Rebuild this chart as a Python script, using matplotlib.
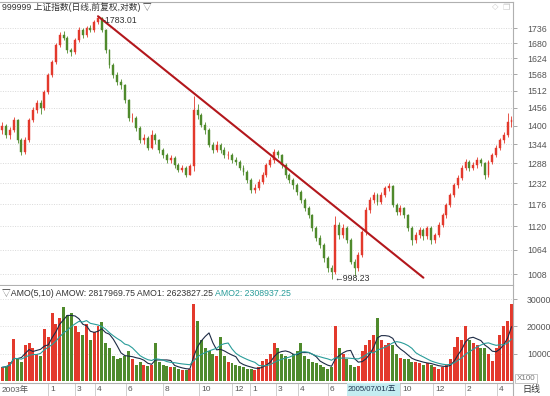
import matplotlib
matplotlib.use("Agg")
import matplotlib.pyplot as plt
import matplotlib.transforms as mtransforms
from matplotlib.ticker import FixedLocator, FixedFormatter, NullLocator
from matplotlib.patches import Rectangle
import numpy as np
import pandas as pd

# ---------------- data (weekly-ish bars, index positions) ----------------
close = [1400, 1370, 1386, 1417, 1356, 1320, 1356, 1417, 1449, 1471,
         1455, 1508, 1565, 1611, 1672, 1710, 1699, 1654, 1647, 1691,
         1730, 1710, 1738, 1730, 1760, 1776, 1730, 1654, 1600, 1565,
         1541, 1530, 1481, 1423, 1423, 1392, 1356, 1362, 1332, 1371,
         1356, 1326, 1311, 1297, 1302, 1283, 1269, 1275, 1256, 1280,
         1449, 1433, 1402, 1386, 1341, 1326, 1341, 1326, 1311, 1311,
         1297, 1291, 1275, 1264, 1241, 1214, 1220, 1236, 1255, 1283,
         1297, 1320, 1311, 1283, 1255, 1241, 1227, 1208, 1187, 1166,
         1148, 1116, 1092, 1075, 1044, 1021, 1012, 1124, 1099, 1116,
         1087, 1036, 1021, 1051, 1106, 1161, 1187, 1200, 1182, 1200,
         1220, 1225, 1174, 1156, 1166, 1148, 1116, 1087, 1099, 1111,
         1096, 1116, 1087, 1099, 1124, 1148, 1174, 1200, 1227, 1247,
         1275, 1291, 1275, 1283, 1297, 1289, 1255, 1291, 1311, 1332,
         1356, 1371, 1410, 1417]
high = [1412, 1405, 1395, 1428, 1420, 1362, 1365, 1425, 1458, 1482,
        1480, 1515, 1572, 1620, 1680, 1722, 1725, 1705, 1662, 1698,
        1740, 1738, 1745, 1750, 1768, 1783.01, 1780, 1735, 1660, 1608,
        1575, 1552, 1535, 1486, 1440, 1430, 1398, 1375, 1368, 1385,
        1378, 1360, 1332, 1318, 1312, 1308, 1290, 1284, 1280, 1286,
        1496, 1470, 1440, 1410, 1392, 1350, 1352, 1348, 1335, 1322,
        1318, 1305, 1298, 1282, 1270, 1246, 1230, 1245, 1262, 1290,
        1305, 1328, 1326, 1316, 1288, 1260, 1248, 1232, 1214, 1192,
        1172, 1152, 1120, 1098, 1080, 1050, 1028, 1147, 1130, 1125,
        1120, 1092, 1042, 1058, 1112, 1168, 1195, 1210, 1205, 1208,
        1226, 1232, 1228, 1180, 1175, 1170, 1152, 1120, 1106, 1118,
        1115, 1122, 1120, 1105, 1130, 1154, 1180, 1206, 1234, 1255,
        1282, 1300, 1298, 1292, 1305, 1302, 1292, 1298, 1318, 1340,
        1362, 1380, 1440, 1430]
low = [1375, 1362, 1360, 1380, 1348, 1312, 1314, 1350, 1410, 1440,
       1436, 1450, 1500, 1558, 1605, 1665, 1690, 1645, 1632, 1640,
       1685, 1700, 1702, 1720, 1722, 1752, 1722, 1645, 1590, 1555,
       1530, 1518, 1472, 1415, 1410, 1384, 1348, 1345, 1325, 1328,
       1345, 1318, 1302, 1288, 1290, 1276, 1262, 1262, 1250, 1259,
       1265, 1420, 1395, 1375, 1335, 1318, 1320, 1318, 1302, 1300,
       1290, 1283, 1268, 1256, 1234, 1205, 1206, 1214, 1230, 1250,
       1278, 1290, 1302, 1276, 1248, 1232, 1218, 1200, 1180, 1158,
       1140, 1108, 1085, 1068, 1036, 1012, 998.23, 1008, 1090, 1092,
       1080, 1030, 1004, 1015, 1046, 1100, 1155, 1180, 1175, 1178,
       1195, 1212, 1168, 1148, 1150, 1140, 1110, 1075, 1080, 1092,
       1088, 1090, 1078, 1080, 1095, 1118, 1142, 1168, 1195, 1220,
       1240, 1268, 1266, 1270, 1276, 1280, 1245, 1250, 1285, 1305,
       1325, 1348, 1365, 1395]
first_open = 1385

volume = [5, 5.5, 7, 15.5, 8, 7, 13, 14, 12, 10,
          9, 19, 16, 25, 21, 23, 27, 24, 25, 20,
          18, 17, 21, 15, 18, 20, 21.5, 14, 12, 9,
          8, 8.5, 9, 11, 8, 6, 7, 6, 5.5, 6,
          14, 7, 6, 5.5, 5, 5, 4.5, 4, 4, 4.5,
          28, 22, 15, 12, 11, 10, 9, 16, 9, 7,
          6.5, 6, 5.5, 5, 4.5, 4.5, 4, 5, 7.5, 8,
          10, 14, 12, 10, 9, 8, 10, 11, 14, 9,
          8, 7, 6.5, 6, 5, 4.5, 5, 20, 12, 10,
          8, 6, 5, 5.5, 11, 13, 15, 17, 23, 15,
          13, 14, 13, 10, 8.5, 8, 8, 7, 7, 6.5,
          6, 6.5, 6, 5, 4.5, 5, 6, 8, 12.5, 16,
          15, 20, 15, 14, 13, 12, 12, 10, 7.5, 12,
          17, 20, 22, 28]
volume = [v * 1000 for v in volume]

price_ticks = [1008, 1064, 1120, 1176, 1232, 1288, 1344, 1400, 1456, 1512,
               1568, 1624, 1680, 1736]
vol_ticks = [10000, 20000, 30000]

month_labels = ['1', '3', '4', '6', '8', '10', '12', '1', '3', '4', '6',
                '10', '12', '2', '4']
month_pos = [12.0, 19.0, 24.2, 32.3, 42.0, 51.4, 60.0, 64.7, 71.5, 77.2,
             85.1, 103.9, 112.5, 120.9, 129.2]
year_label = '2003年'
cursor_label = '2005/07/01/五'
cursor_span = [90.0, 103.9]

trend_x = [25, 110]
trend_y = [1783.01, 1000]
peak_idx, peak_val = 25, 1783.01
trough_idx, trough_val = 86, 998.23

title_main = '999999 上证指数(日线,前复权,对数) ▽'
amo_head = '▽AMO(5,10) AMOW: 2817969.75 AMO1: 2623827.25 '
amo2_text = 'AMO2: 2308937.25'

# ---------------- derived ----------------
n = len(close)
x = np.arange(n)
close_a = np.array(close, float)
open_a = np.concatenate([[first_open], close_a[:-1]])
high_a = np.maximum(np.array(high, float), np.maximum(open_a, close_a))
low_a = np.minimum(np.array(low, float), np.minimum(open_a, close_a))
up = close_a >= open_a
vol_s = pd.Series(volume, dtype=float)
amo1 = vol_s.rolling(5, min_periods=1).mean()
amo2 = vol_s.rolling(10, min_periods=1).mean()

UP = '#e3392c'
DN = '#4f8a2c'
colors = np.where(up, UP, DN)

FONT = ['Liberation Sans', 'Noto Sans CJK SC', 'DejaVu Sans']
plt.rcParams['font.family'] = FONT

W, H = 550, 396
fig = plt.figure(figsize=(W / 100, H / 100), dpi=100)
fig.patch.set_facecolor('white')

XMIN, XMAX = -0.6, 133.4

def fx(px):
    return px / W

def fy(py):
    return 1 - py / H

# ---------------- price panel ----------------
ax1 = fig.add_axes([0, fy(285), fx(513), (285 - 2) / H])
ax1.set_yscale('log')
ax1.set_xlim(XMIN, XMAX)
ax1.set_ylim(984, 1840)
for t in price_ticks:
    ax1.axhline(t, color='#d9d9d9', lw=0.7, ls=(0, (1, 1.5)), zorder=0)

body_bottom = np.minimum(open_a, close_a)
body_h = np.maximum(np.abs(close_a - open_a), 2.0)
ax1.vlines(x, low_a, high_a, colors=colors, lw=0.6, zorder=2)
ax1.bar(x, body_h, bottom=body_bottom, width=0.5, color=colors,
        edgecolor=colors, lw=0.3, zorder=3)

ax1.plot(trend_x, trend_y, color='#b3171c', lw=1.5, zorder=4,
         solid_capstyle='round')

off = mtransforms.offset_copy(ax1.transData, fig=fig, x=2, y=-3, units='points')
ax1.text(peak_idx + 0.5, peak_val, '-' + f'{peak_val:.2f}', fontsize=6.3,
         color='#333333', ha='left', va='center', zorder=5, transform=off)
ax1.text(trough_idx + 0.7, trough_val, '←' + f'{trough_val:.2f}', fontsize=6.3,
         color='#333333', ha='left', va='center', zorder=5)

ax1.yaxis.tick_right()
ax1.yaxis.set_major_locator(FixedLocator(price_ticks))
ax1.yaxis.set_major_formatter(FixedFormatter([str(t) for t in price_ticks]))
ax1.yaxis.set_minor_locator(NullLocator())
ax1.tick_params(axis='y', which='major', length=3, width=0.6, color='#999999',
                labelsize=6.3, labelcolor='#555555', pad=7)
ax1.set_xticks([])
ax1.spines['left'].set_visible(False)
for s in ['top', 'right', 'bottom']:
    ax1.spines[s].set_color('#b0b0b0')
    ax1.spines[s].set_linewidth(0.8)

ax1.text(0.004, 1 - 5.5 / 283, title_main, transform=ax1.transAxes, fontsize=6.3,
         color='#333333', ha='left', va='center', zorder=6)
fig.text(fx(495), fy(7), '◇', fontsize=6, color='#c8c8c8', ha='center',
         va='center', family=['DejaVu Sans'])
fig.text(fx(506), fy(7), '❐', fontsize=6, color='#c8c8c8', ha='center',
         va='center', family=['DejaVu Sans'])

# ---------------- volume panel ----------------
ax2 = fig.add_axes([0, fy(383), fx(513), (383 - 286) / H])
ax2.set_xlim(XMIN, XMAX)
ax2.set_ylim(-732, 34760)
for t in vol_ticks:
    ax2.axhline(t, color='#dedede', lw=0.7, ls=(0, (1, 1.5)), zorder=0)
ax2.bar(x, volume, width=0.78, color=colors, lw=0, zorder=2)
ax2.plot(x, amo1, color='#1d2b45', lw=0.8, zorder=3)
ax2.plot(x, amo2, color='#2a9d9a', lw=0.8, zorder=3)

ax2.yaxis.tick_right()
ax2.yaxis.set_major_locator(FixedLocator(vol_ticks))
ax2.yaxis.set_major_formatter(FixedFormatter([str(t) for t in vol_ticks]))
ax2.tick_params(axis='y', length=3, width=0.6, color='#999999',
                labelsize=6.3, labelcolor='#555555', pad=7)
ax2.set_xticks([])
ax2.spines['left'].set_visible(False)
ax2.spines['top'].set_visible(False)
for s in ['right', 'bottom']:
    ax2.spines[s].set_color('#b0b0b0')
    ax2.spines[s].set_linewidth(0.8)

ty = 1 - 8 / 97
t1 = ax2.text(0.004, ty, amo_head, transform=ax2.transAxes, fontsize=6.3,
              color='#333333', ha='left', va='center', zorder=6)
fig.canvas.draw()
bb = t1.get_window_extent()
inv = ax2.transAxes.inverted()
x_end = inv.transform((bb.x1, bb.y1))[0]
ax2.text(x_end, ty, amo2_text, transform=ax2.transAxes, fontsize=6.3,
         color='#2a9d9a', ha='left', va='center', zorder=6)

# X100 box
fig.text(fx(526), fy(378.5), 'X100', fontsize=5.8, color='#777777',
         ha='center', va='center',
         bbox=dict(boxstyle='square,pad=0.15', fc='white', ec='#bbbbbb', lw=0.6))

# ---------------- bottom date row ----------------
trans = mtransforms.blended_transform_factory(ax2.transData, ax2.transAxes)
row_h = (396 - 383) / (383 - 286)
ax2.text(-0.1, -row_h / 2, year_label, transform=trans, fontsize=6.0,
         color='#555555', ha='left', va='center', clip_on=False)
for lab, p in zip(month_labels, month_pos):
    ax2.plot([p, p], [0, -row_h], transform=trans, color='#c8c8c8', lw=0.6,
             clip_on=False)
    ax2.text(p + 0.5, -row_h / 2, lab, transform=trans, fontsize=6.0,
             color='#555555', ha='left', va='center', clip_on=False)
ax2.add_patch(Rectangle((cursor_span[0], -row_h), cursor_span[1] - cursor_span[0],
                        row_h, transform=trans, facecolor='#c4edf1',
                        edgecolor='none', clip_on=False, zorder=5))
ax2.text(cursor_span[0] + 0.2, -row_h / 2, cursor_label, transform=trans,
         fontsize=5.6, color='#1e3550', ha='left', va='center', clip_on=False,
         zorder=6)
ax2.plot([XMAX, XMAX], [0, -row_h], transform=trans, color='#b0b0b0', lw=0.8,
         clip_on=False)
fig.text(fx(531), fy(389.5), '日线', fontsize=6.5, color='#333333',
         ha='center', va='center')

fig.savefig('out.png', dpi=100, facecolor='white')
